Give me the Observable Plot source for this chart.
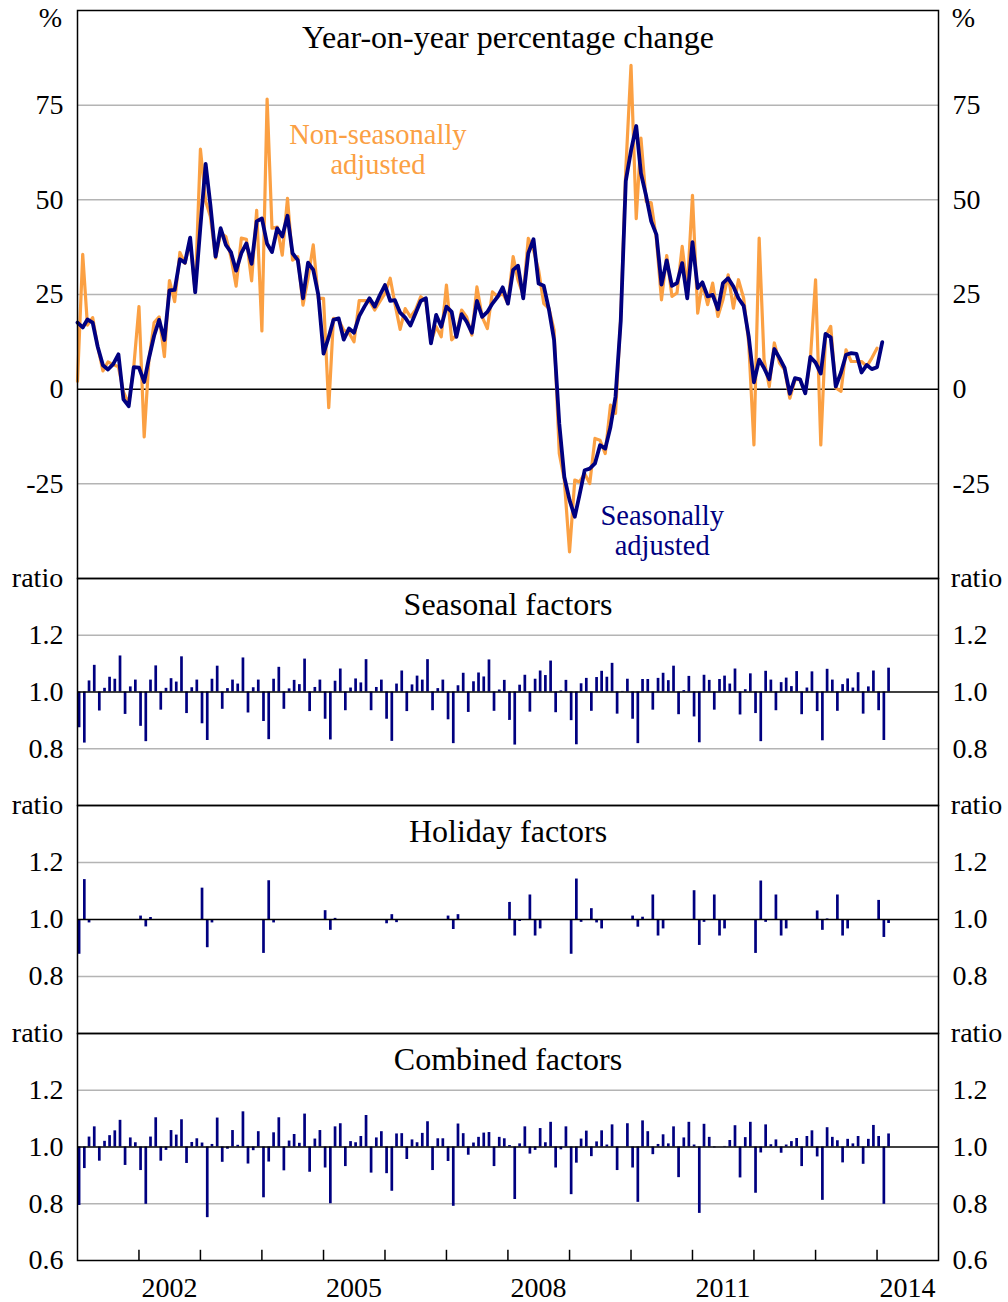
<!DOCTYPE html>
<html><head><meta charset="utf-8">
<script src="https://cdn.jsdelivr.net/npm/d3@7"></script>
<script src="https://cdn.jsdelivr.net/npm/@observablehq/plot@0.6"></script>
<style>
body{margin:0;background:#fff;}
#chart{position:relative;width:1008px;height:1302px;background:#fff;overflow:hidden;}
#chart > svg{position:absolute;left:0;}
</style></head><body><div id="chart"></div>
<script>
// Monthly data starting January 2001
const nsaYoY = [
  2.1, 35.6, 16.9, 18.9, 11.2, 4.8, 7.2, 6.5, 5.9, -0.7, -3.8, 5.8,
  21.8, -12.6, 7.7, 17.6, 19.1, 8.6, 28.7, 23.1, 36.1, 33.2, 39, 25.7,
  63.4, 49.6, 45.6, 34.6, 41.2, 40.3, 35, 27.2, 39.9, 39.6, 28.6, 47.2,
  15.4, 76.6, 42.5, 42.8, 35.4, 50.4, 34.1, 35, 22.2, 29.3, 38.1, 24,
  24, -4.9, 18.7, 18.3, 15.6, 14.9, 12.5, 23.4, 23.4, 23.3, 20.9, 23.1,
  25.3, 29.3, 22.6, 15.8, 21.3, 19.1, 20.9, 24.4, 23.1, 12.5, 16.5, 13.8,
  27.5, 13, 14.3, 20.9, 19.1, 14.3, 27, 19.1, 16, 25.7, 24.4, 25.3,
  22.6, 35, 28.8, 24.8, 39.8, 36.7, 31.5, 22.6, 21.3, 15.6, -17, -24,
  -43, -24, -24.5, -22.3, -24.9, -13, -13.5, -17, -4.2, -6.4, 19.1, 58,
  85.5, 45, 66.3, 49.6, 49.2, 39.5, 23.6, 35.3, 24.5, 25.4, 37.7, 26.3,
  51.2, 20.1, 28, 22.3, 28, 19.2, 23.6, 30.2, 21.4, 28.9, 24, 12.2,
  -14.7, 39.9, 7.8, 0.7, 12.2, 6.9, 5.1, -2.4, 2.5, 2.5, -1.1, 7.8,
  28.9, -14.7, 13.9, 16.6, 0.3, -0.6, 10.4, 7.3, 7.3, 7.3, 6, 8.2,
  10.8
];
const saYoY = [
  17.6, 16.3, 18.4, 17.6, 11.2, 6.3, 5.2, 6.6, 9.2, -2.7, -4.5, 5.8,
  5.7, 1.9, 8.1, 14.1, 18.3, 13, 26.1, 26.2, 34.3, 33.4, 40, 25.6,
  43, 59.5, 48.7, 35, 42.5, 38.1, 36.2, 31.3, 35.9, 38.5, 33.1, 44.3,
  45.1, 38.4, 36.2, 42.5, 40.3, 45.8, 35.9, 34.1, 24, 33.4, 31.5, 24.9,
  9.4, 13.8, 18.3, 18.7, 13.1, 16, 14.9, 19.3, 21.8, 24, 21.8, 24.8,
  27.5, 23.3, 23.5, 20.2, 18.9, 16.8, 20, 23.3, 24, 12.1, 19.6, 16.5,
  21.8, 20.4, 13.8, 19.8, 17.8, 14.9, 23.3, 19.1, 20.4, 22.6, 24.4, 26.9,
  22.6, 31.5, 32.6, 24, 35.9, 39.6, 27.9, 27.3, 20.9, 13, -9.1, -23.2,
  -29.3, -33.7, -28, -21.4, -21, -19.6, -14.8, -15.7, -10, -2, 18, 55,
  63, 69.5, 57, 51, 44.3, 40.8, 27.6, 34, 27.3, 28, 33.3, 24,
  38.8, 26.7, 28.2, 24.5, 24.9, 21.1, 28, 29.3, 27.1, 24, 22, 13.9,
  1.8, 7.8, 5.6, 2.6, 10.6, 8.2, 5.6, -1.2, 2.9, 2.6, -1.1, 8.5,
  7, 4.1, 14.6, 13.7, 0.7, 4.4, 9.1, 9.5, 9.3, 4.4, 6.4, 5.3,
  5.8, 12.4
];
const seasonalFactors = [
  0.874, 0.820, 1.039, 1.094, 0.933, 1.013, 1.052, 1.045, 1.127, 0.921, 1.018, 1.042,
  0.879, 0.825, 1.042, 1.092, 0.936, 1.013, 1.047, 1.035, 1.124, 0.924, 1.015, 1.042,
  0.888, 0.829, 1.045, 1.091, 0.939, 1.012, 1.042, 1.028, 1.120, 0.926, 1.015, 1.042,
  0.896, 0.832, 1.045, 1.087, 0.939, 1.011, 1.041, 1.026, 1.116, 0.931, 1.016, 1.042,
  0.904, 0.831, 1.038, 1.081, 0.934, 1.014, 1.046, 1.032, 1.114, 0.934, 1.016, 1.042,
  0.904, 0.826, 1.028, 1.074, 0.931, 1.025, 1.056, 1.042, 1.114, 0.934, 1.012, 1.042,
  0.902, 0.818, 1.022, 1.066, 0.928, 1.036, 1.067, 1.053, 1.113, 0.932, 1.007, 1.041,
  0.900, 0.813, 1.024, 1.059, 0.929, 1.045, 1.074, 1.058, 1.109, 0.927, 1.004, 1.041,
  0.899, 0.814, 1.029, 1.048, 0.932, 1.051, 1.073, 1.052, 1.101, 0.922, 1.002, 1.045,
  0.904, 0.818, 1.044, 1.044, 0.936, 1.048, 1.066, 1.040, 1.091, 0.920, 1.005, 1.055,
  0.912, 0.821, 1.059, 1.041, 0.936, 1.044, 1.056, 1.028, 1.081, 0.919, 1.008, 1.064,
  0.924, 0.825, 1.073, 1.042, 0.934, 1.033, 1.049, 1.019, 1.072, 0.920, 1.014, 1.071,
  0.931, 0.828, 1.080, 1.042, 0.932, 1.026, 1.046, 1.014, 1.068, 0.922, 1.018, 1.074,
  0.934, 0.829, 1.084
];
const holidayFactors = [
  0.878, 1.140, 0.988, 1, 1, 1, 1, 1, 1, 1, 1, 1,
  1.012, 0.974, 1.007, 1, 1, 1, 1, 1, 1, 1, 1, 1,
  1.110, 0.901, 0.988, 1, 1, 1, 1, 1, 1, 1, 1, 1,
  0.881, 1.136, 0.988, 1, 1, 1, 1, 1, 1, 1, 1, 1,
  1.031, 0.962, 1.004, 1, 1, 1, 1, 1, 1, 1, 1, 1,
  0.985, 1.017, 0.989, 1, 1, 1, 1, 1, 1, 1, 1, 1,
  1.012, 0.965, 1.017, 1, 1, 1, 1, 1, 1, 1, 1, 1,
  1.060, 0.942, 0.993, 1, 1.086, 0.942, 0.967, 1, 1, 1, 1, 1,
  0.878, 1.142, 0.990, 1, 1.038, 0.988, 0.967, 1, 1, 1, 1, 1,
  1.012, 0.973, 1.008, 1, 1.086, 0.942, 0.967, 1, 1, 1, 1, 1,
  1.101, 0.909, 0.990, 1, 1.086, 0.942, 0.967, 1, 1, 1, 1, 1,
  0.881, 1.135, 0.990, 1, 1.086, 0.942, 0.967, 1, 1, 1, 1, 1,
  1.030, 0.962, 1.002, 1, 1.086, 0.942, 0.967, 1, 1, 1, 1, 1,
  1.067, 0.937, 0.986
];
const combinedFactors = [
  0.794, 0.924, 1.035, 1.071, 0.950, 1.020, 1.040, 1.057, 1.094, 0.935, 1.032, 1.015,
  0.917, 0.798, 1.035, 1.103, 0.950, 0.988, 1.058, 1.042, 1.096, 0.942, 1.016, 1.029,
  1.014, 0.751, 1.009, 1.102, 0.946, 0.992, 1.058, 1.006, 1.124, 0.940, 0.987, 1.054,
  0.821, 0.947, 1.050, 1.103, 0.916, 1.021, 1.044, 1.013, 1.116, 0.911, 1.028, 1.058,
  0.926, 0.800, 1.071, 1.082, 0.931, 1.019, 1.015, 1.037, 1.111, 0.908, 1.032, 1.054,
  0.906, 0.844, 1.046, 1.047, 0.956, 1.025, 1.015, 1.048, 1.089, 0.917, 1.029, 1.029,
  0.949, 0.791, 1.081, 1.047, 0.971, 1.014, 1.034, 1.049, 1.051, 0.931, 1.034, 1.029,
  1.005, 0.815, 1.011, 1.071, 0.975, 0.988, 1.065, 1.015, 1.087, 0.926, 0.990, 1.071,
  0.832, 0.943, 1.028, 1.056, 0.966, 1.018, 1.057, 1.007, 1.078, 0.917, 1.000, 1.082,
  0.926, 0.805, 1.092, 1.054, 0.973, 1.009, 1.043, 1.011, 1.071, 0.892, 1.032, 1.087,
  1.007, 0.766, 1.080, 1.034, 0.997, 1.000, 1.002, 1.023, 1.075, 0.891, 1.033, 1.087,
  0.837, 0.979, 1.078, 1.008, 1.025, 0.978, 1.007, 1.019, 1.030, 0.931, 1.037, 1.057,
  0.965, 0.812, 1.068, 1.034, 1.022, 0.944, 1.027, 1.011, 1.037, 0.939, 1.027, 1.076,
  1.037, 0.798, 1.046
];
const yoyTicks = [-25, 0, 25, 50, 75];
const ratioTicks = [0.8, 1.0, 1.2];
const ratioTicksBottom = [0.6, 0.8, 1.0, 1.2];
const tickYears = [2002, 2003, 2004, 2005, 2006, 2007, 2008, 2009, 2010, 2011, 2012, 2013, 2014];
const yearLabels = [2002, 2005, 2008, 2011, 2014];

const FONT = '"Liberation Serif", "Times New Roman", "DejaVu Serif", serif';
const ORANGE = "#fba043";
const NAVY = "#000080";
const GRID = "#b4b4b4";
const FS = 28;
const TITLE_FS = 32;

const monthDate = i => new Date(Date.UTC(2001, i, 1));
const rows = arr => arr.map((v, i) => ({date: monthDate(i), v}));
const xScale = {type: "utc", domain: [new Date(Date.UTC(2001, 0, 1)), new Date(Date.UTC(2015, 0, 1))], axis: null};
const baseStyle = {fontFamily: FONT, fontSize: FS + "px", overflow: "visible", background: "transparent", color: "black"};
const chart = document.getElementById("chart");
const centered = {textAnchor: "middle", lineAnchor: "middle"};

function place(svg, top) { svg.style.top = top + "px"; chart.appendChild(svg); }

// Panel 1
const p1 = Plot.plot({
  width: 1008, height: 578, marginTop: 10, marginBottom: 0, marginLeft: 77, marginRight: 70,
  style: baseStyle,
  x: xScale,
  y: {domain: [-50, 100], axis: null},
  marks: [
    Plot.ruleY([-25, 25, 50, 75], {stroke: GRID, strokeWidth: 1.5}),
    Plot.ruleY([0], {stroke: "black", strokeWidth: 1.5}),
    Plot.line(rows(nsaYoY), {x: "date", y: "v", stroke: ORANGE, strokeWidth: 3.2}),
    Plot.line(rows(saYoY), {x: "date", y: "v", stroke: NAVY, strokeWidth: 3.8}),
    Plot.axisY({ticks: yoyTicks, anchor: "left", tickSize: 0, tickPadding: 14, tickFormat: d => String(d), fontSize: FS, label: null}),
    Plot.axisY({ticks: yoyTicks, anchor: "right", tickSize: 0, tickPadding: 14, tickFormat: d => String(d), fontSize: FS, label: null}),
    Plot.frame({stroke: "black", strokeWidth: 1.5}),
    Plot.text(["Year-on-year percentage change"], {frameAnchor: "top", dy: 27, fontSize: TITLE_FS, ...centered}),
    Plot.text(["%"], {frameAnchor: "top-left", dx: -27, dy: 8, ...centered}),
    Plot.text(["%"], {frameAnchor: "top-right", dx: 25, dy: 8, ...centered}),
    Plot.text(["Non-seasonally\nadjusted"], {x: new Date(Date.UTC(2005, 10, 20)), y: 63.4, fill: ORANGE, lineHeight: 1.05, fontSize: 28.5}),
    Plot.text(["Seasonally\nadjusted"], {x: new Date(Date.UTC(2010, 6, 5)), y: -37.3, fill: NAVY, lineHeight: 1.05, fontSize: 28.5})
  ]
});
place(p1, 0);

function ratioPanel(values, title, height, marginBottom, ticks, extra) {
  return Plot.plot({
    width: 1008, height, marginTop: 0, marginBottom, marginLeft: 77, marginRight: 70,
    style: baseStyle,
    x: xScale,
    y: {domain: [0.6, 1.4], axis: null},
    marks: [
      Plot.ruleY([0.8, 1.2], {stroke: GRID, strokeWidth: 1.5}),
      Plot.ruleX(rows(values).filter(d => d.v !== 1), {x: "date", y1: 1, y2: "v", stroke: NAVY, strokeWidth: 2.7, dx: 1.6}),
      Plot.ruleY([1], {stroke: "black", strokeWidth: 1.5}),
      Plot.axisY({ticks, anchor: "left", tickSize: 0, tickPadding: 14, tickFormat: d3.format(".1f"), fontSize: FS, label: null}),
      Plot.axisY({ticks, anchor: "right", tickSize: 0, tickPadding: 14, tickFormat: d3.format(".1f"), fontSize: FS, label: null}),
      Plot.frame({stroke: "black", strokeWidth: 1.5}),
      Plot.text([title], {frameAnchor: "top", dy: 26, fontSize: TITLE_FS, ...centered}),
      Plot.text(["ratio"], {frameAnchor: "top-left", dx: -40, ...centered}),
      Plot.text(["ratio"], {frameAnchor: "top-right", dx: 38, ...centered}),
      ...(extra || [])
    ]
  });
}

place(ratioPanel(seasonalFactors, "Seasonal factors", 227, 0, ratioTicks), 578);
place(ratioPanel(holidayFactors, "Holiday factors", 228, 0, ratioTicks), 805);
place(ratioPanel(combinedFactors, "Combined factors", 269, 42, ratioTicksBottom, [
  Plot.ruleX(tickYears.map(y => new Date(Date.UTC(y, 0, 1))), {y1: 0.6, y2: 0.636, stroke: "black", strokeWidth: 1.5}),
  Plot.text(yearLabels, {x: d => new Date(Date.UTC(d, 6, 1)), frameAnchor: "bottom", dy: 28, text: d => String(d), ...centered})
]), 1033);
</script>
</body></html>
